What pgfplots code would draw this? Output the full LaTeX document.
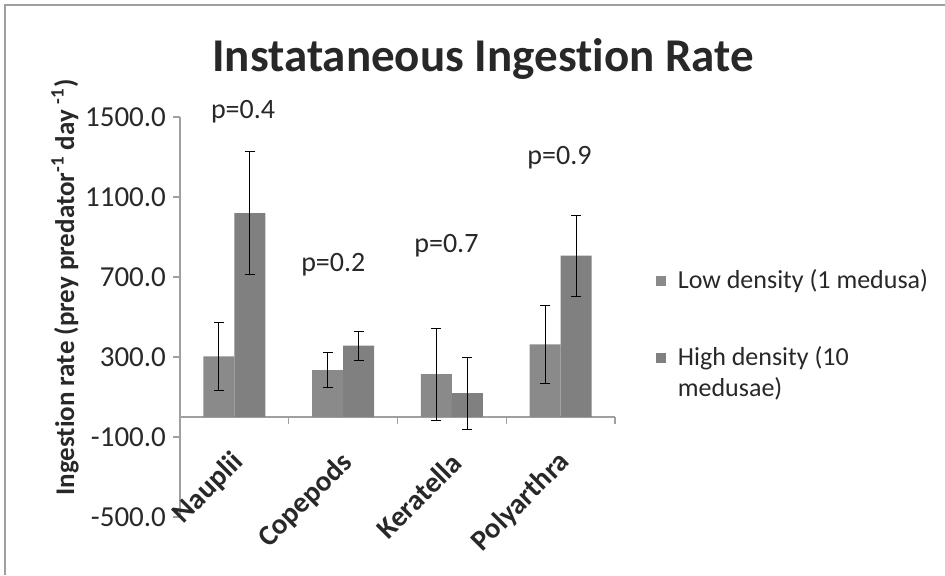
\documentclass[border=0pt]{standalone}
\usepackage{pgfplots}
\pgfplotsset{compat=1.18}
\usepackage{fontspec}
\setmainfont{Carlito}[Ligatures=NoCommon]
\definecolor{barlow}{RGB}{138,138,138}
\definecolor{barhigh}{RGB}{128,128,128}
\definecolor{axgray}{RGB}{160,160,160}
\definecolor{txt}{RGB}{40,40,40}
\pgfplotstableread{
x y e
0 303 172
1 235 88
2 215 230
3 363 195
}\lowdata
\pgfplotstableread{
x y e
0 1020 308
1 357 73
2 120 180
3 807 202
}\highdata
\begin{document}
\begin{tikzpicture}
\useasboundingbox (-90pt,-29pt) rectangle (382.5pt,258.5pt);
\draw[gray!75, line width=0.8pt] (-87.5pt,-29pt) -- (-87.5pt,256pt) -- (382.5pt,256pt);
\begin{axis}[
  scale only axis, width=217.5pt, height=200pt,
  xmin=-0.5, xmax=3.5, ymin=-500, ymax=1500,
  axis x line=middle, axis y line=left,
  hide obscured x ticks=false, hide obscured y ticks=false,
  axis line style={-, draw=axgray, line width=0.6pt},
  tick style={draw=axgray, line width=0.6pt},
  tick align=outside, major tick length=3.5pt, minor tick length=3.5pt,
  ybar,
  ytick={-500,-100,300,700,1100,1500},
  xtick={0,1,2,3},
  minor xtick={0.5,1.5,2.5,3.5},
  major x tick style={draw=none},
  minor x tick style={draw=axgray},
  xticklabels={Nauplii,Copepods,Keratella,Polyarthra},
  xticklabel style={font=\bfseries\fontsize{14.5}{17}\selectfont, text=txt, inner sep=0pt, xshift=2.5pt, yshift=-17pt, rotate=45, anchor=east},
  /pgf/number format/assume math mode=true,
  yticklabel style={font=\fontsize{14.5}{17}\selectfont, text=txt, /pgf/number format/fixed, /pgf/number format/fixed zerofill, /pgf/number format/precision=1, /pgf/number format/1000 sep={}},
  ylabel={Ingestion rate (prey predator\textsuperscript{-1} day \textsuperscript{-1})},
  ylabel style={at={(axis description cs:-0.2644,0.574)}, anchor=center, font=\bfseries\fontsize{13.5}{16}\selectfont, text=txt},
  title={Instataneous Ingestion Rate},
  title style={at={(axis description cs:0.6966,1.085)}, anchor=base, font=\bfseries\fontsize{23.5}{28}\selectfont, text=txt},
  legend style={at={(axis description cs:1.093,0.6295)}, anchor=north west, draw=none, fill=none, inner sep=0pt, font=\fontsize{13}{15.5}\selectfont, text=txt, row sep=24pt},
  legend cell align=left,
  legend image code/.code={\fill[#1] (0pt,-2.5pt) rectangle (5pt,2.5pt); \path (9pt,0pt);},
  clip=false,
]
\addplot[ybar, bar width=15.5pt, bar shift=-7.75pt, fill=barlow, draw=none,
  error bars/.cd, y dir=both, y explicit,
  error bar style={draw=black, line width=0.5pt},
  error mark=|,
  error mark options={draw=black, line width=0.5pt, mark size=2.5pt}]
  table[x=x, y=y, y error=e] {\lowdata};
\addlegendentry{Low density (1 medusa)}
\addplot[ybar, bar width=15.5pt, bar shift=7.75pt, fill=barhigh, draw=none,
  error bars/.cd, y dir=both, y explicit,
  error bar style={draw=black, line width=0.5pt},
  error mark=|,
  error mark options={draw=black, line width=0.5pt, mark size=2.5pt}]
  table[x=x, y=y, y error=e] {\highdata};
\addlegendentry{\raisebox{0pt}[9pt][3pt]{\begin{tabular}[t]{@{}l@{}}High density (10\\medusae)\end{tabular}}}
\node[font=\fontsize{14}{16}\selectfont, text=txt] at (axis cs:0.08,1528) {p=0.4};
\node[font=\fontsize{14}{16}\selectfont, text=txt] at (axis cs:0.91,762) {p=0.2};
\node[font=\fontsize{14}{16}\selectfont, text=txt] at (axis cs:1.95,855) {p=0.7};
\node[font=\fontsize{14}{16}\selectfont, text=txt] at (axis cs:2.99,1295) {p=0.9};
\end{axis}
\end{tikzpicture}
\end{document}
